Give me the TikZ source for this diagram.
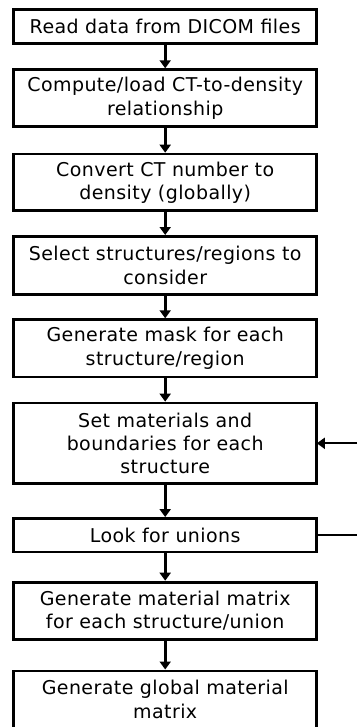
\documentclass[tikz,border=0pt]{standalone}
\usepackage{fontspec}
\setmainfont{DejaVu Sans}[LetterSpace=2.2]
\usetikzlibrary{arrows.meta}
\begin{document}
\begin{tikzpicture}[x=1pt,y=1pt,
  stepbox/.style={draw=black, line width=2.8pt, minimum width=303.3pt, inner sep=0pt, align=center, font=\fontsize{19}{23.3}\selectfont, text=black},
  flow/.style={draw=black, line width=2.6pt, -{Triangle[width=11pt,length=8pt]}},
  back/.style={draw=black, line width=2pt},
]
\useasboundingbox (0,0) rectangle (357,-727);
\clip (0,0) rectangle (357,-727);
\node[stepbox, minimum height=33.9pt] (b1) at (165.2,-26.7) {Read data from DICOM files};
\node[stepbox, minimum height=57.2pt] (b2) at (165.2,-98.3) {Compute/load CT-to-density\\relationship};
\node[stepbox, minimum height=56.8pt] (b3) at (165.2,-182.5) {Convert CT number to\\density (globally)};
\node[stepbox, minimum height=58.2pt] (b4) at (165.2,-265.5) {Select structures/regions to\\consider};
\node[stepbox, minimum height=57.2pt] (b5) at (165.2,-348.3) {Generate mask for each\\structure/region};
\node[stepbox, minimum height=80.5pt] (b6) at (165.2,-443.3) {Set materials and\\boundaries for each\\structure};
\node[stepbox, minimum height=33.5pt] (b7) at (165.2,-535.2) {Look for unions};
\node[stepbox, minimum height=57.2pt] (b8) at (165.2,-610.7) {Generate material matrix\\for each structure/union};
\node[stepbox, minimum height=57.2pt] (b9) at (165.2,-699.5) {Generate global material\\matrix};
\draw[flow] (b1.south) -- (b2.north);
\draw[flow] (b2.south) -- (b3.north);
\draw[flow] (b3.south) -- (b4.north);
\draw[flow] (b4.south) -- (b5.north);
\draw[flow] (b5.south) -- (b6.north);
\draw[flow] (b6.south) -- (b7.north);
\draw[flow] (b7.south) -- (b8.north);
\draw[flow] (b8.south) -- (b9.north);
\coordinate (fin) at (357,-443.3);
\coordinate (fout) at (357,-535.2);
\draw[back, -{Triangle[width=11pt,length=8pt]}, shorten >=-1.4pt] (fin) -- (b6.east);
\draw[back] (b7.east) -- (fout);
\end{tikzpicture}
\end{document}
